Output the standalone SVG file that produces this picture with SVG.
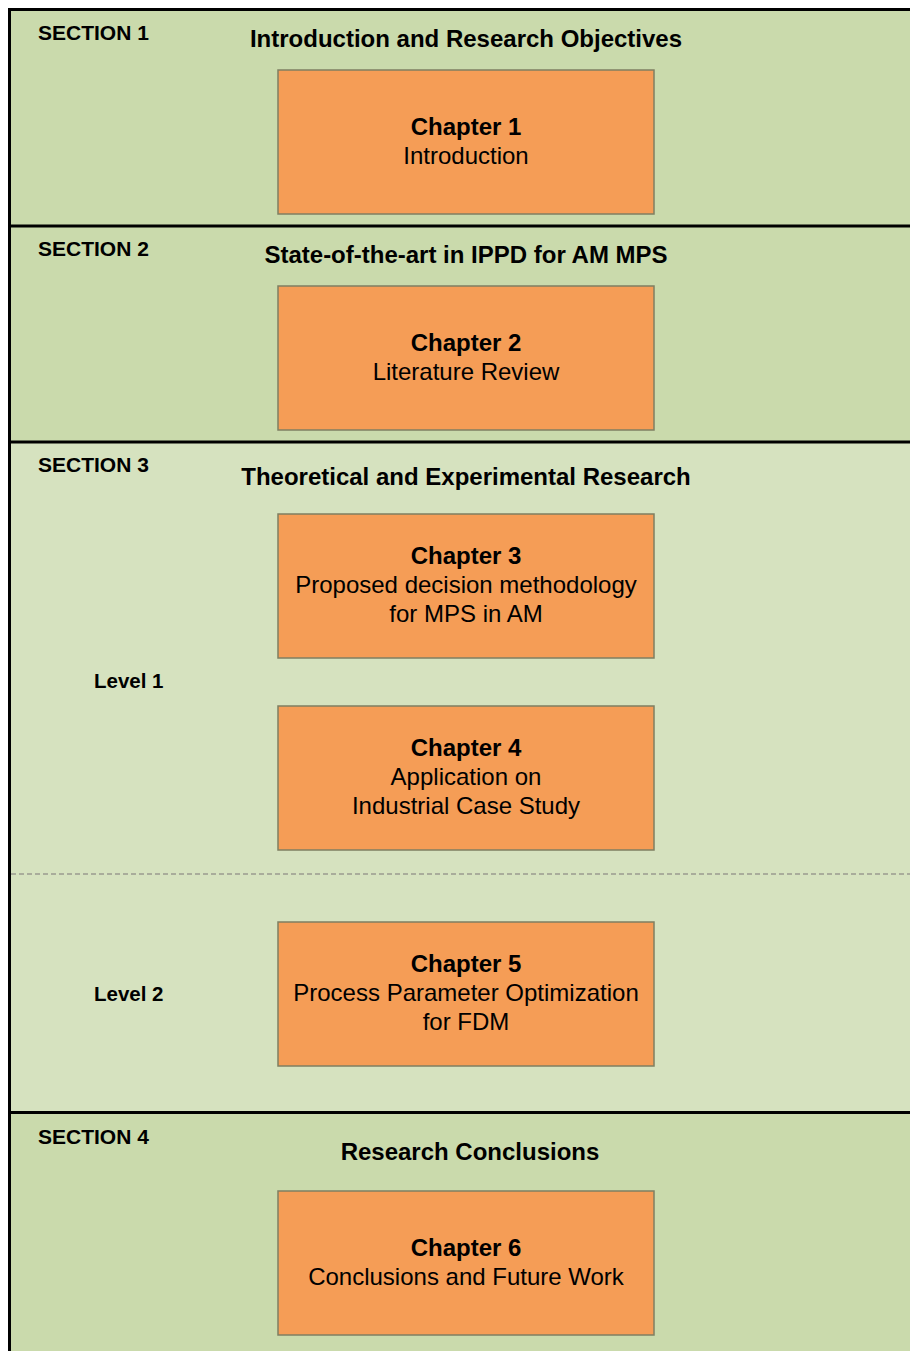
<svg xmlns="http://www.w3.org/2000/svg" width="910" height="1351" viewBox="0 0 910 1351">
<style>
.bg{fill:#ffffff}
.sec{fill:#CADAAC}
.sec3{fill:#D6E2BF}
.border{stroke:#000000;stroke-width:3;fill:none}
.dash{stroke:#9A9A90;stroke-width:1.3;stroke-dasharray:5 3;fill:none}
.box{fill:#F59D56;stroke:#7F7F62;stroke-width:1.5}
.lab{font-family:"Liberation Sans",Arial,sans-serif;font-weight:bold;font-size:21px;fill:#000}
.lv{font-family:"Liberation Sans",Arial,sans-serif;font-weight:bold;font-size:20.5px;fill:#000}
.title{font-family:"Liberation Sans",Arial,sans-serif;font-weight:bold;font-size:24px;fill:#000;text-anchor:middle}
.ch{font-family:"Liberation Sans",Arial,sans-serif;font-weight:bold;font-size:24px;fill:#000;text-anchor:middle}
.tx{font-family:"Liberation Sans",Arial,sans-serif;font-size:24px;fill:#000;text-anchor:middle}
</style>
<rect class="bg" x="0" y="0" width="910" height="1351"/>
<g id="section1">
<rect class="sec" x="9.5" y="9.5" width="905" height="216.5"/>
<text class="lab" x="38" y="40">SECTION 1</text>
<text class="title" x="466" y="47">Introduction and Research Objectives</text>
</g>
<g id="section2">
<rect class="sec" x="9.5" y="226" width="905" height="216"/>
<text class="lab" x="38" y="256">SECTION 2</text>
<text class="title" x="466" y="263">State-of-the-art in IPPD for AM MPS</text>
</g>
<g id="section3">
<rect class="sec3" x="9.5" y="442" width="905" height="670.5"/>
<text class="lab" x="38" y="472">SECTION 3</text>
<text class="title" x="466" y="485">Theoretical and Experimental Research</text>
<line class="dash" x1="11" y1="874" x2="910" y2="874"/>
<text class="lv" x="94" y="688">Level 1</text>
<text class="lv" x="94" y="1001">Level 2</text>
</g>
<g id="section4">
<rect class="sec" x="9.5" y="1112.5" width="905" height="245"/>
<text class="lab" x="38" y="1144">SECTION 4</text>
<text class="title" x="470" y="1160">Research Conclusions</text>
</g>
<g id="frame">
<path class="border" d="M910,9.5 H9.5 V1351"/>
<line class="border" x1="9.5" y1="226" x2="910" y2="226"/>
<line class="border" x1="9.5" y1="442" x2="910" y2="442"/>
<line class="border" x1="9.5" y1="1112.5" x2="910" y2="1112.5"/>
</g>
<g id="chapter1">
<rect class="box" x="278" y="70" width="376" height="144"/>
<text class="ch" x="466" y="135">Chapter 1</text>
<text class="tx" x="466" y="164">Introduction</text>
</g>
<g id="chapter2">
<rect class="box" x="278" y="286" width="376" height="144"/>
<text class="ch" x="466" y="351">Chapter 2</text>
<text class="tx" x="466" y="380">Literature Review</text>
</g>
<g id="chapter3">
<rect class="box" x="278" y="514" width="376" height="144"/>
<text class="ch" x="466" y="564">Chapter 3</text>
<text class="tx" x="466" y="593">Proposed decision methodology</text>
<text class="tx" x="466" y="622">for MPS in AM</text>
</g>
<g id="chapter4">
<rect class="box" x="278" y="706" width="376" height="144"/>
<text class="ch" x="466" y="756">Chapter 4</text>
<text class="tx" x="466" y="785">Application on</text>
<text class="tx" x="466" y="814">Industrial Case Study</text>
</g>
<g id="chapter5">
<rect class="box" x="278" y="922" width="376" height="144"/>
<text class="ch" x="466" y="972">Chapter 5</text>
<text class="tx" x="466" y="1001">Process Parameter Optimization</text>
<text class="tx" x="466" y="1030">for FDM</text>
</g>
<g id="chapter6">
<rect class="box" x="278" y="1191" width="376" height="144"/>
<text class="ch" x="466" y="1256">Chapter 6</text>
<text class="tx" x="466" y="1285">Conclusions and Future Work</text>
</g>
<g id="connectors"></g>
</svg>
